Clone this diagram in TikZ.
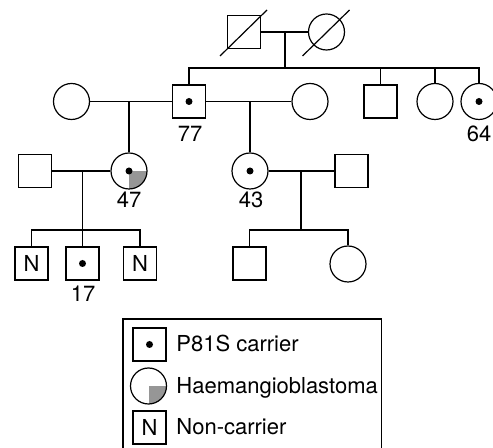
\documentclass[tikz,border=0pt]{standalone}
\usepackage{fontspec}
\setmainfont{TeX Gyre Heros}
\usepackage{tikz}
\usetikzlibrary{calc}
\definecolor{hbgray}{RGB}{150,150,150}
\tikzset{
  person/.style ={draw, line width=0.6pt, inner sep=0pt,
                  font=\fontsize{11}{13}\selectfont},
  male/.style   ={person, rectangle, minimum size=16.5pt},
  female/.style ={person, circle, minimum size=18pt},
  carrier/.style={path picture={
      \fill (path picture bounding box.center) circle (1.75pt);}},
  hbonly/.style ={path picture={
      \fill[hbgray] (path picture bounding box.center)
        rectangle (path picture bounding box.south east);}},
  carrierhb/.style={path picture={
      \fill[hbgray] (path picture bounding box.center)
        rectangle (path picture bounding box.south east);
      \fill (path picture bounding box.center) circle (1.75pt);}},
  age/.style    ={font=\fontsize{11}{13}\selectfont, inner sep=0pt},
  keytext/.style={font=\fontsize{11}{13}\selectfont, inner sep=0pt,
                  anchor=base west},
  line/.style   ={line width=0.6pt},
}
\begin{document}
\begin{tikzpicture}[x=0.5pt, y=-0.5pt]
  \useasboundingbox (0,0) rectangle (493,448);

  % generation I
  \node[male]   (gf) at (244,32)   {};
  \node[female] (gm) at (326.5,32) {};
  \draw[line] (gf) ++(-24,24) -- ++(47,-46);
  \draw[line] (gm) ++(-24,24) -- ++(47,-46);

  % generation II
  \node[female]          (wifeA) at (71.5,101.5) {};
  \node[male, carrier]   (p77)   at (189,101.5)  {};
  \node[female]          (wifeB) at (310,101.5)  {};
  \node[male]            (bro)   at (380.5,101.5){};
  \node[female]          (sis)   at (435,101.5)  {};
  \node[female, carrier] (p64)   at (479,101.5)  {};
  \node[age] (a77) at (190,134) {77};
  \node[age] (a64) at (479,134) {64};

  % generation III
  \node[male]              (husA) at (35,171)    {};
  \node[female, carrierhb] (p47)  at (129,171)   {};
  \node[female, carrier]   (p43)  at (250,171)   {};
  \node[male]              (husB) at (351.5,171) {};
  \node[age] (a47) at (129,200) {47};
  \node[age] (a43) at (251,200) {43};

  % generation IV
  \node[male]          (kidA) at (31.5,263.5)  {N};
  \node[male, carrier] (p17)  at (82.5,263.5)  {};
  \node[male]          (kidC) at (140,263.5)   {N};
  \node[male]          (kidD) at (249.5,263.5) {};
  \node[female]        (kidE) at (348,264)     {};
  \node[age] (a17) at (83,294) {17};

  % couples and descent
  \coordinate (mI)   at (285,32);
  \coordinate (sibI) at (285,68);
  \coordinate (mA)   at (129,101.5);
  \coordinate (mB)   at (250,101.5);
  \coordinate (mC)   at (82.5,171);
  \coordinate (sibC) at (82.5,230);
  \coordinate (mD)   at (301,171);
  \coordinate (sibD) at (301,230);

  \draw[line] (gf) -- (gm);
  \draw[line] (mI) -- (sibI);
  \draw[line] (p77.north) |- (sibI) -| (p64.north);
  \draw[line] (bro.north) -- (bro.north |- sibI);
  \draw[line] (sis.north) -- (sis.north |- sibI);

  \draw[line] (wifeA) -- (p77);
  \draw[line] (p77) -- (wifeB);
  \draw[line] (mA) -- (p47);
  \draw[line] (mB) -- (p43);

  \draw[line] (husA) -- (p47);
  \draw[line] (p43) -- (husB);
  \draw[line] (mC) -- (p17);
  \draw[line] (kidA.north) |- (sibC) -| (kidC.north);
  \draw[line] (mD) -- (sibD);
  \draw[line] (kidD.north) |- (sibD) -| (kidE.north);

  % legend
  \draw[line] (123,319) rectangle (381.5,449);
  \node[male, carrier] (keyA) at (149.5,344.5) {};
  \node[female, hbonly] (keyB) at (148.5,386)  {};
  \node[male]          (keyC) at (149.5,427.5) {N};
  \node[keytext] (txtA) at (176,351.5) {P81S carrier};
  \node[keytext] (txtB) at (176,394)   {Haemangioblastoma};
  \node[keytext] (txtC) at (176,435)   {Non-carrier};
\end{tikzpicture}
\end{document}
